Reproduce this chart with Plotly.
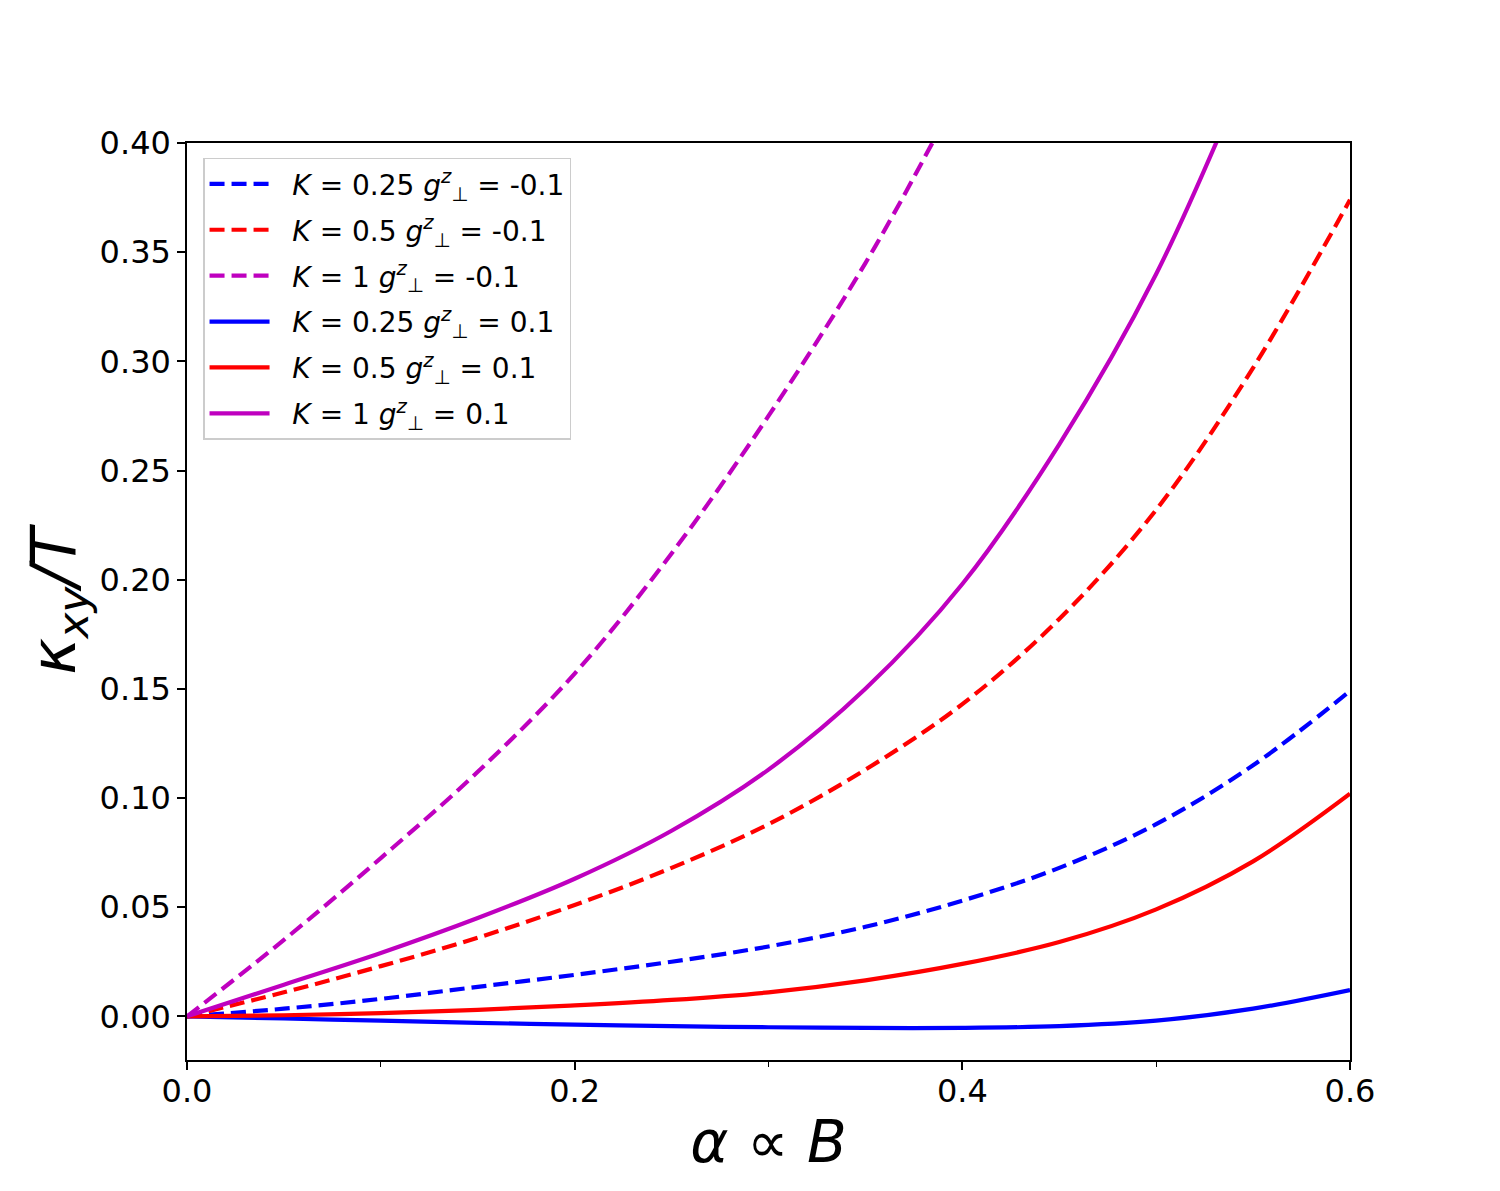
import plotly.graph_objects as go

# alpha grid for each curve
alpha = [0, 0.05, 0.1, 0.15, 0.2, 0.25, 0.3, 0.35, 0.4, 0.45, 0.5, 0.55, 0.6]

blue_dash = [0, 0.0035, 0.008, 0.0135, 0.019, 0.025, 0.032, 0.041, 0.053, 0.068, 0.088, 0.115, 0.149]
red_dash = [0, 0.011, 0.023, 0.036, 0.051, 0.068, 0.088, 0.113, 0.143, 0.182, 0.232, 0.297, 0.374]
blue_solid = [0, -0.001, -0.002, -0.003, -0.0038, -0.0045, -0.005, -0.0053, -0.0053, -0.0045, -0.002, 0.0035, 0.012]
red_solid = [0, 0.0005, 0.0015, 0.003, 0.005, 0.0075, 0.011, 0.0165, 0.024, 0.034, 0.049, 0.071, 0.102]

alpha_m_dash = [0, 0.05, 0.1, 0.15, 0.2, 0.25, 0.3, 0.35, 0.3845, 0.4]
mag_dash = [0, 0.035, 0.0725, 0.112, 0.157, 0.212, 0.275, 0.345, 0.40, 0.427]

alpha_m_solid = [0, 0.05, 0.1, 0.15, 0.2, 0.25, 0.3, 0.35, 0.4, 0.45, 0.5, 0.55]
mag_solid = [0, 0.0145, 0.029, 0.045, 0.063, 0.085, 0.113, 0.150, 0.198, 0.262, 0.340, 0.440]

y_ticks = [0.0, 0.05, 0.10, 0.15, 0.20, 0.25, 0.30, 0.35, 0.40]
x_ticks = [0.0, 0.2, 0.4, 0.6]

BLUE = "#0000ff"
RED = "#ff0000"
MAG = "#bf00bf"
DASH = "15px,7px"
LW = 4.2


def lab(k, g):
    return "\u00a0\u00a0<i>K</i> = " + k + " <i>g</i><sup><i>z</i></sup><sub>⊥</sub> = " + g


series = [
    (alpha, blue_dash, BLUE, DASH, lab("0.25", "-0.1")),
    (alpha, red_dash, RED, DASH, lab("0.5", "-0.1")),
    (alpha_m_dash, mag_dash, MAG, DASH, lab("1", "-0.1")),
    (alpha, blue_solid, BLUE, "solid", lab("0.25", "0.1")),
    (alpha, red_solid, RED, "solid", lab("0.5", "0.1")),
    (alpha_m_solid, mag_solid, MAG, "solid", lab("1", "0.1")),
]

fig = go.Figure()
for i, (xs, ys, c, d, name) in enumerate(series):
    fig.add_trace(go.Scatter(
        x=xs, y=ys, mode="lines", name=name, legendgroup=f"g{i}",
        line=dict(color=c, dash=d, width=LW, shape="spline", smoothing=1.0),
    ))

FONT = "DejaVu Sans"
fig.update_layout(
    width=1500, height=1191,
    margin=dict(l=187, r=150, t=143, b=131),
    paper_bgcolor="white", plot_bgcolor="white",
    font=dict(family=FONT, size=32, color="black"),
    showlegend=True,
    legend=dict(
        x=0.0138, y=0.984, xanchor="left", yanchor="top",
        bgcolor="rgba(255,255,255,0.8)", bordercolor="#cccccc", borderwidth=1.5,
        font=dict(family=FONT, size=28), itemwidth=60, tracegroupgap=6.5,
    ),
)
fig.update_xaxes(
    range=[0, 0.6], tickvals=x_ticks, ticktext=[f"{v:.1f}" for v in x_ticks],
    ticks="outside", ticklen=8, tickwidth=1.5, tickcolor="black",
    showline=True, linecolor="black", linewidth=1.5, mirror=True,
    showgrid=False, zeroline=False, ticklabelstandoff=-6,
    tickfont=dict(family=FONT, size=32),
    minor=dict(tickvals=[0.1, 0.3, 0.5], ticks="outside", ticklen=5, tickwidth=1.2, tickcolor="black", showgrid=False),
    title=dict(text="<i>α</i> ∝ <i>B</i>", font=dict(family=FONT, size=58), standoff=12),
)
fig.update_yaxes(
    range=[-0.02, 0.40], tickvals=y_ticks, ticktext=[f"{v:.2f}" for v in y_ticks],
    ticks="outside", ticklen=8, tickwidth=1.5, tickcolor="black",
    showline=True, linecolor="black", linewidth=1.5, mirror=True,
    showgrid=False, zeroline=False,
    tickfont=dict(family=FONT, size=32),
    title=dict(text="<i>κ<sub>xy</sub>/T</i>", font=dict(family=FONT, size=62), standoff=4),
)

fig.write_html("out.html")
